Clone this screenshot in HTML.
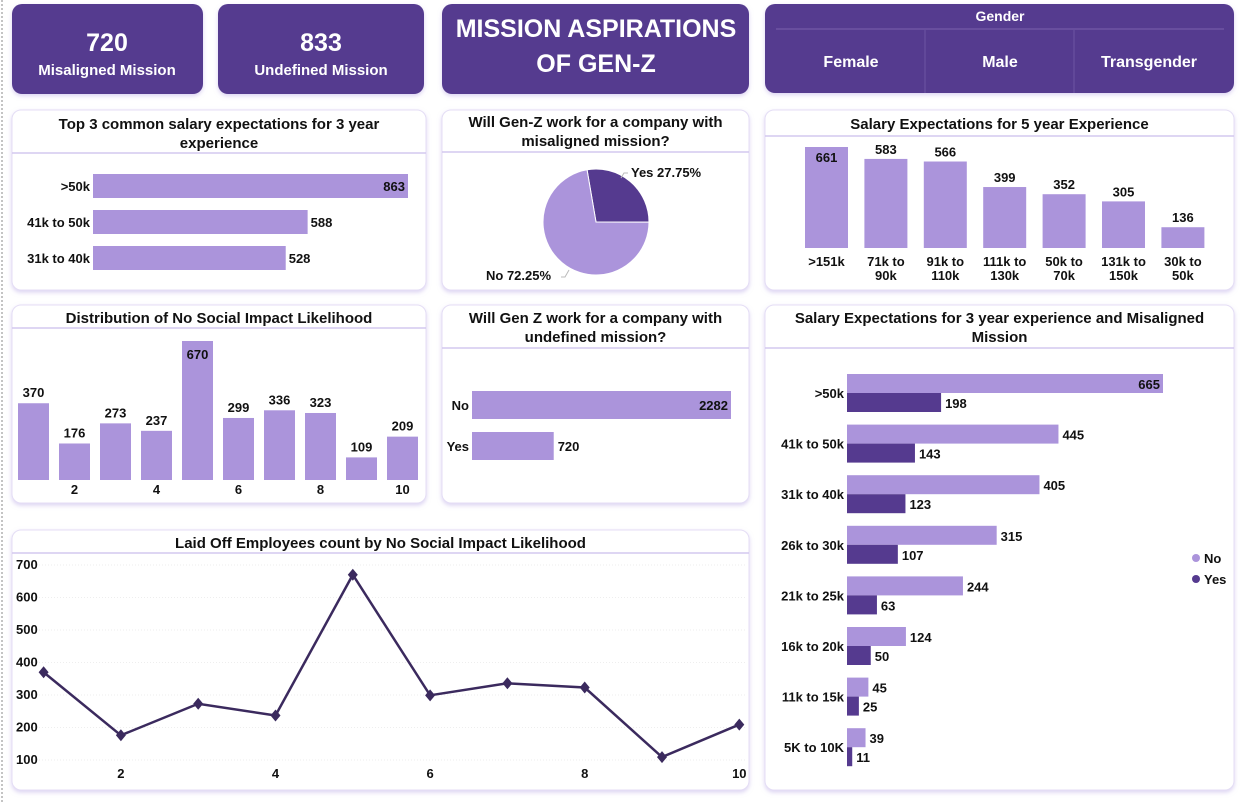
<!DOCTYPE html>
<html><head><meta charset="utf-8"><style>
html,body{margin:0;padding:0;background:#fff;}
svg{display:block;font-family:"Liberation Sans Narrow","Liberation Sans",sans-serif;}
.t{font-weight:bold;font-size:15px;fill:#111;}
.l{font-weight:bold;font-size:13px;fill:#111;}
</style></head><body>
<svg id="s" width="1247" height="803" viewBox="0 0 1247 803">
<defs><filter id="sh" x="-5%" y="-5%" width="110%" height="115%"><feDropShadow dx="0" dy="2" stdDeviation="2" flood-color="#b9a8e6" flood-opacity="0.5"/></filter></defs>
<line x1="2" y1="0" x2="2" y2="803" stroke="#888" stroke-dasharray="2,2"/>
<g><rect x="12" y="4" width="191" height="90" rx="10" fill="#553a8f" filter="url(#sh)"/>
<text x="107" y="51" text-anchor="middle" fill="#fff" font-weight="bold" font-size="25">720</text>
<text x="107" y="75" text-anchor="middle" fill="#fff" font-weight="bold" font-size="15">Misaligned Mission</text></g>
<g><rect x="218" y="4" width="206" height="90" rx="10" fill="#553a8f" filter="url(#sh)"/>
<text x="321" y="51" text-anchor="middle" fill="#fff" font-weight="bold" font-size="25">833</text>
<text x="321" y="75" text-anchor="middle" fill="#fff" font-weight="bold" font-size="15">Undefined Mission</text></g>
<g><rect x="442" y="4" width="307" height="90" rx="10" fill="#553a8f" filter="url(#sh)"/>
<text x="596" y="37" text-anchor="middle" fill="#fff" font-weight="bold" font-size="25">MISSION ASPIRATIONS</text>
<text x="596" y="72" text-anchor="middle" fill="#fff" font-weight="bold" font-size="25">OF GEN-Z</text></g>
<g><rect x="765" y="4" width="469" height="89" rx="10" fill="#553a8f" filter="url(#sh)"/>
<text x="1000" y="21" text-anchor="middle" fill="#fff" font-weight="bold" font-size="14">Gender</text>
<line x1="776" y1="29" x2="1224" y2="29" stroke="#7a62ad"/>
<line x1="925" y1="30" x2="925" y2="93" stroke="#6d54a3"/><line x1="1074" y1="30" x2="1074" y2="93" stroke="#6d54a3"/>
<text x="851" y="67" text-anchor="middle" fill="#fff" font-weight="bold" font-size="16">Female</text>
<text x="1000" y="67" text-anchor="middle" fill="#fff" font-weight="bold" font-size="16">Male</text>
<text x="1149" y="67" text-anchor="middle" fill="#fff" font-weight="bold" font-size="16">Transgender</text></g>
<g id="cards"></g>
<g id="charts"></g>
</svg>
<script>
const ns="http://www.w3.org/2000/svg";
const root=document.getElementById('charts'), cards=document.getElementById('cards');
function mk(tag,a,p,txt){const e=document.createElementNS(ns,tag);for(const k in a)e.setAttribute(k,a[k]);if(txt!==undefined)e.textContent=txt;(p||root).appendChild(e);return e;}
const L='#ab94db', D='#553a8f';
// card frames
function card(x,y,w,h,lineY,titles,ty,name){const g=mk('g',{},cards);


mk('rect',{x:x,y:y,width:w,height:h,rx:9,fill:'#fff',stroke:'#e4ddf5',filter:'url(#sh)'},g);
mk('line',{x1:x,y1:lineY,x2:x+w,y2:lineY,stroke:'#d3c8ef','stroke-width':1.5},g);
titles.forEach((t,i)=>{const e=mk('text',{x:x+w/2,y:ty+i*19,'text-anchor':'middle',class:'t'},g,t);

});}
card(12,110,414,180,153,['Top 3 common salary expectations for 3 year','experience'],129,'top3-salary-card');
card(442,110,307,180,152,['Will Gen-Z work for a company with','misaligned mission?'],127,'misaligned-pie-card');
card(765,110,469,180,136,['Salary Expectations for 5 year Experience'],129,'salary-5yr-card');
card(12,305,414,198,328,['Distribution of No Social Impact Likelihood'],323,'distribution-card');
card(442,305,307,198,348,['Will Gen Z work for a company with','undefined mission?'],323,'undefined-card');
card(765,305,469,485,348,['Salary Expectations for 3 year experience and Misaligned','Mission'],323,'salary-misaligned-card');
card(12,530,737,260,553,['Laid Off Employees count by No Social Impact Likelihood'],548,'laidoff-card');

// Chart 1 data
const top3Cats=['>50k','41k to 50k','31k to 40k'];
const top3Vals=[863,588,528];
// Pie data
const pieLabels=['Yes','No'];
const pieVals=[27.75,72.25];
// 5 year
const sal5Cats=[['>151k'],['71k to','90k'],['91k to','110k'],['111k to','130k'],['50k to','70k'],['131k to','150k'],['30k to','50k']];
const sal5Vals=[661,583,566,399,352,305,136];
// distribution
const distCats=[1,2,3,4,5,6,7,8,9,10];
const distVals=[370,176,273,237,670,299,336,323,109,209];
// undefined
const undefCats=['No','Yes'];
const undefVals=[2282,720];
// grouped
const grpCats=['>50k','41k to 50k','31k to 40k','26k to 30k','21k to 25k','16k to 20k','11k to 15k','5K to 10K'];
const grpNo=[665,445,405,315,244,124,45,39];
const grpYes=[198,143,123,107,63,50,25,11];
// line
const lineX=[1,2,3,4,5,6,7,8,9,10];
const lineY=[370,176,273,237,670,299,336,323,109,209];
const lineYTicks=[100,200,300,400,500,600,700];
const lineXTicks=[2,4,6,8,10];

// chart 1
{const x0=93,sx=315/863;top3Cats.forEach((c,i)=>{const y=174+i*36,w=top3Vals[i]*sx;
let r=mk('rect',{x:x0,y:y,width:w,height:24,fill:L});
let t=mk('text',{x:x0-3,y:y+17,'text-anchor':'end',class:'l'},root,c);
const inside=(i===0);let v=mk('text',{x:inside?x0+w-3:x0+w+3,y:y+17,'text-anchor':inside?'end':'start',class:'l'},root,top3Vals[i]);});}
// pie
{const cx=596,cy=222,r=53;let a=-0.17;const tot=pieVals.reduce((a,b)=>a+b,0);
pieVals.forEach((v,i)=>{const a2=a+v/tot*2*Math.PI;const p=(ang)=>[cx+r*Math.sin(ang),cy-r*Math.cos(ang)];const [x1,y1]=p(a),[x2,y2]=p(a2);
let s=mk('path',{d:`M${cx},${cy}L${x1},${y1}A${r},${r} 0 ${a2-a>Math.PI?1:0} 1 ${x2},${y2}Z`,fill:i===0?D:L,stroke:'#fff','stroke-width':1});
a=a2;});
let t1=mk('text',{x:631,y:177,class:'l',fill:'#3b2a5e'},root,'Yes '+pieVals[0]+'%');
let t2=mk('text',{x:486,y:280,class:'l'},root,'No '+pieVals[1]+'%');
mk('polyline',{points:'628,173 624,173 621,178',fill:'none',stroke:'#bbb'});mk('polyline',{points:'561,277 565,277 569,270',fill:'none',stroke:'#bbb'});}
// 5yr
{const base=248,sy=101/661;sal5Cats.forEach((c,i)=>{const x=805+i*59.4,h=sal5Vals[i]*sy;
let r=mk('rect',{x:x,y:base-h,width:43,height:h,fill:L});
let v=mk('text',{x:x+21.5,y:i===0?base-h+15:base-h-5,'text-anchor':'middle',class:'l'},root,sal5Vals[i]);
c.forEach((ln,j)=>{let t=mk('text',{x:x+21.5,y:266+j*14,'text-anchor':'middle',class:'l','font-size':12},root,ln);});});}
// distribution
{const base=480,sy=139/670;distCats.forEach((c,i)=>{const x=18+i*41,h=distVals[i]*sy;
let r=mk('rect',{x:x,y:base-h,width:31,height:h,fill:L});
let v=mk('text',{x:x+15.5,y:i===4?base-h+18:base-h-6,'text-anchor':'middle',class:'l'},root,distVals[i]);
if(c%2===0){let t=mk('text',{x:x+15.5,y:494,'text-anchor':'middle',class:'l','font-size':12},root,c);}});}
// undefined
{const x0=472,sx=259/2282;undefCats.forEach((c,i)=>{const y=391+i*41,w=undefVals[i]*sx;
let r=mk('rect',{x:x0,y:y,width:w,height:28,fill:L});
let t=mk('text',{x:x0-3,y:y+19,'text-anchor':'end',class:'l','font-size':14},root,c);
const inside=i===0;let v=mk('text',{x:inside?x0+w-3:x0+w+4,y:y+19,'text-anchor':inside?'end':'start',class:'l','font-size':14},root,undefVals[i]);});}
// grouped
{const x0=847,sx=316/665;grpCats.forEach((c,i)=>{const y=374+i*50.6;
const wn=grpNo[i]*sx,wy=grpYes[i]*sx;
let r1=mk('rect',{x:x0,y:y,width:wn,height:19,fill:L});
let r2=mk('rect',{x:x0,y:y+19,width:wy,height:19,fill:D});
let t=mk('text',{x:x0-3,y:y+24,'text-anchor':'end',class:'l','font-size':14},root,c);
const inside=i===0;let v1=mk('text',{x:inside?x0+wn-3:x0+wn+4,y:y+15,'text-anchor':inside?'end':'start',class:'l','font-size':14},root,grpNo[i]);
let v2=mk('text',{x:x0+wy+4,y:y+34,class:'l','font-size':14},root,grpYes[i]);});
[['No',L,558],['Yes',D,579]].forEach(([n,col,y])=>{let g=mk('g',{});
mk('circle',{cx:1196,cy:y,r:4,fill:col},g);mk('text',{x:1204,y:y+5,class:'l','font-size':14},g,n);});}
// line
{const X=v=>43.6+(v-1)*77.3, Y=v=>760-(v-100)*0.325;
lineYTicks.forEach(t=>{mk('line',{x1:30,x2:745,y1:Y(t),y2:Y(t),stroke:'#eee','stroke-dasharray':'1,2'});
let e=mk('text',{x:16,y:Y(t)+4,class:'l','font-size':11,'font-weight':'bold'},root,t);});
lineXTicks.forEach(t=>{let e=mk('text',{x:X(t),y:778,'text-anchor':'middle',class:'l','font-size':14},root,t);});
let p=mk('polyline',{points:lineX.map((x,i)=>X(x)+','+Y(lineY[i])).join(' '),fill:'none',stroke:'#3b2a5e','stroke-width':2.5});

lineX.forEach((x,i)=>{const cx=X(x),cy=Y(lineY[i]);let m=mk('path',{d:`M${cx},${cy-6}L${cx+5},${cy}L${cx},${cy+6}L${cx-5},${cy}Z`,fill:'#3b2a5e'});
});}
</script>
</body></html>
